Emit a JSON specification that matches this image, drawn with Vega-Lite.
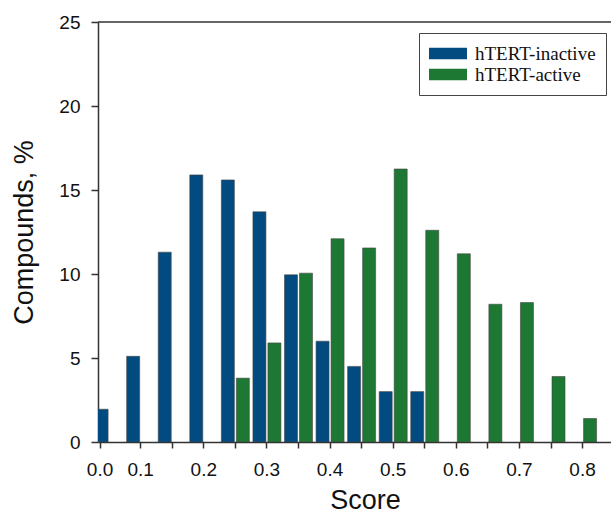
{
  "$schema": "https://vega.github.io/schema/vega-lite/v6.json",
  "width": 513,
  "height": 420,
  "autosize": {"type": "none"},
  "padding": {"left": 98, "top": 22, "right": 0, "bottom": 73},
  "background": "white",
  "config": {
    "view": {"stroke": null},
    "font": "Liberation Sans",
    "axis": {
      "domainColor": "#333",
      "domainWidth": 1.5,
      "tickColor": "#333",
      "tickWidth": 1.5,
      "tickSize": 6,
      "grid": false,
      "labelColor": "#111",
      "titleColor": "#111",
      "labelFont": "Liberation Sans",
      "titleFont": "Liberation Sans",
      "labelFontSize": 19,
      "titleFontSize": 27,
      "titleFontWeight": "normal",
      "labelOverlap": false
    }
  },
  "data": {
    "values": [
      {"score": 0.05, "series": "hTERT-inactive", "percent": 1.95},
      {"score": 0.10, "series": "hTERT-inactive", "percent": 5.1},
      {"score": 0.15, "series": "hTERT-inactive", "percent": 11.3},
      {"score": 0.20, "series": "hTERT-inactive", "percent": 15.9},
      {"score": 0.25, "series": "hTERT-inactive", "percent": 15.6},
      {"score": 0.30, "series": "hTERT-inactive", "percent": 13.7},
      {"score": 0.35, "series": "hTERT-inactive", "percent": 9.95},
      {"score": 0.40, "series": "hTERT-inactive", "percent": 6.0},
      {"score": 0.45, "series": "hTERT-inactive", "percent": 4.5},
      {"score": 0.50, "series": "hTERT-inactive", "percent": 3.0},
      {"score": 0.55, "series": "hTERT-inactive", "percent": 3.0},
      {"score": 0.25, "series": "hTERT-active", "percent": 3.8},
      {"score": 0.30, "series": "hTERT-active", "percent": 5.9},
      {"score": 0.35, "series": "hTERT-active", "percent": 10.05},
      {"score": 0.40, "series": "hTERT-active", "percent": 12.1},
      {"score": 0.45, "series": "hTERT-active", "percent": 11.55},
      {"score": 0.50, "series": "hTERT-active", "percent": 16.25},
      {"score": 0.55, "series": "hTERT-active", "percent": 12.6},
      {"score": 0.60, "series": "hTERT-active", "percent": 11.2},
      {"score": 0.65, "series": "hTERT-active", "percent": 8.2},
      {"score": 0.70, "series": "hTERT-active", "percent": 8.3},
      {"score": 0.75, "series": "hTERT-active", "percent": 3.9},
      {"score": 0.80, "series": "hTERT-active", "percent": 1.4}
    ]
  },
  "layer": [
    {
      "transform": [{"filter": "datum.series == 'hTERT-inactive'"}],
      "mark": {"type": "bar", "width": 13, "xOffset": -7, "clip": true, "stroke": "#444", "strokeWidth": 0.6},
      "encoding": {
        "x": {
          "field": "score", "type": "quantitative",
          "scale": {"domain": [0, 0.05, 0.8375], "range": [0, 10.6, 513], "nice": false, "zero": false},
          "axis": {
            "title": "Score",
            "values": [0, 0.1, 0.15, 0.2, 0.25, 0.3, 0.35, 0.4, 0.45, 0.5, 0.55, 0.6, 0.65, 0.7, 0.75, 0.8],
            "tickCount": 40,
            "labelExpr": "abs(datum.value*10 - round(datum.value*10)) < 0.01 ? format(datum.value, '.1f') : ''",
            "labelPadding": 12,
            "titlePadding": 8,
            "titleX": 267
          }
        },
        "y": {
          "field": "percent", "type": "quantitative",
          "scale": {"domain": [0, 25], "nice": false},
          "axis": {"title": "Compounds, %", "values": [0, 5, 10, 15, 20, 25], "tickSize": 7, "labelPadding": 11, "titlePadding": 20}
        },
        "color": {
          "field": "series", "type": "nominal",
          "scale": {"domain": ["hTERT-inactive", "hTERT-active"], "range": ["#024b80", "#1d7833"]},
          "legend": {
            "title": null,
            "orient": "none",
            "legendX": 321,
            "legendY": 11,
            "strokeColor": "#444",
            "fillColor": "white",
            "padding": 10,
            "symbolType": "M-1,-0.3H1V0.3H-1Z",
            "symbolSize": 1444,
            "symbolStrokeWidth": 0,
            "labelFont": "Liberation Serif",
            "labelFontSize": 19,
            "labelColor": "#111",
            "labelOffset": 8,
            "labelLimit": 300,
            "clipHeight": 21,
            "rowPadding": 0
          }
        }
      }
    },
    {
      "transform": [{"filter": "datum.series == 'hTERT-active'"}],
      "mark": {"type": "bar", "width": 13, "xOffset": 8, "clip": true, "stroke": "#444", "strokeWidth": 0.6},
      "encoding": {
        "x": {"field": "score", "type": "quantitative"},
        "y": {"field": "percent", "type": "quantitative"},
        "color": {"field": "series", "type": "nominal"}
      }
    },
    {
      "data": {"values": [{"top": 25}]},
      "mark": {"type": "rule", "color": "#333", "strokeWidth": 1.5},
      "encoding": {"y": {"field": "top", "type": "quantitative"}}
    }
  ]
}
